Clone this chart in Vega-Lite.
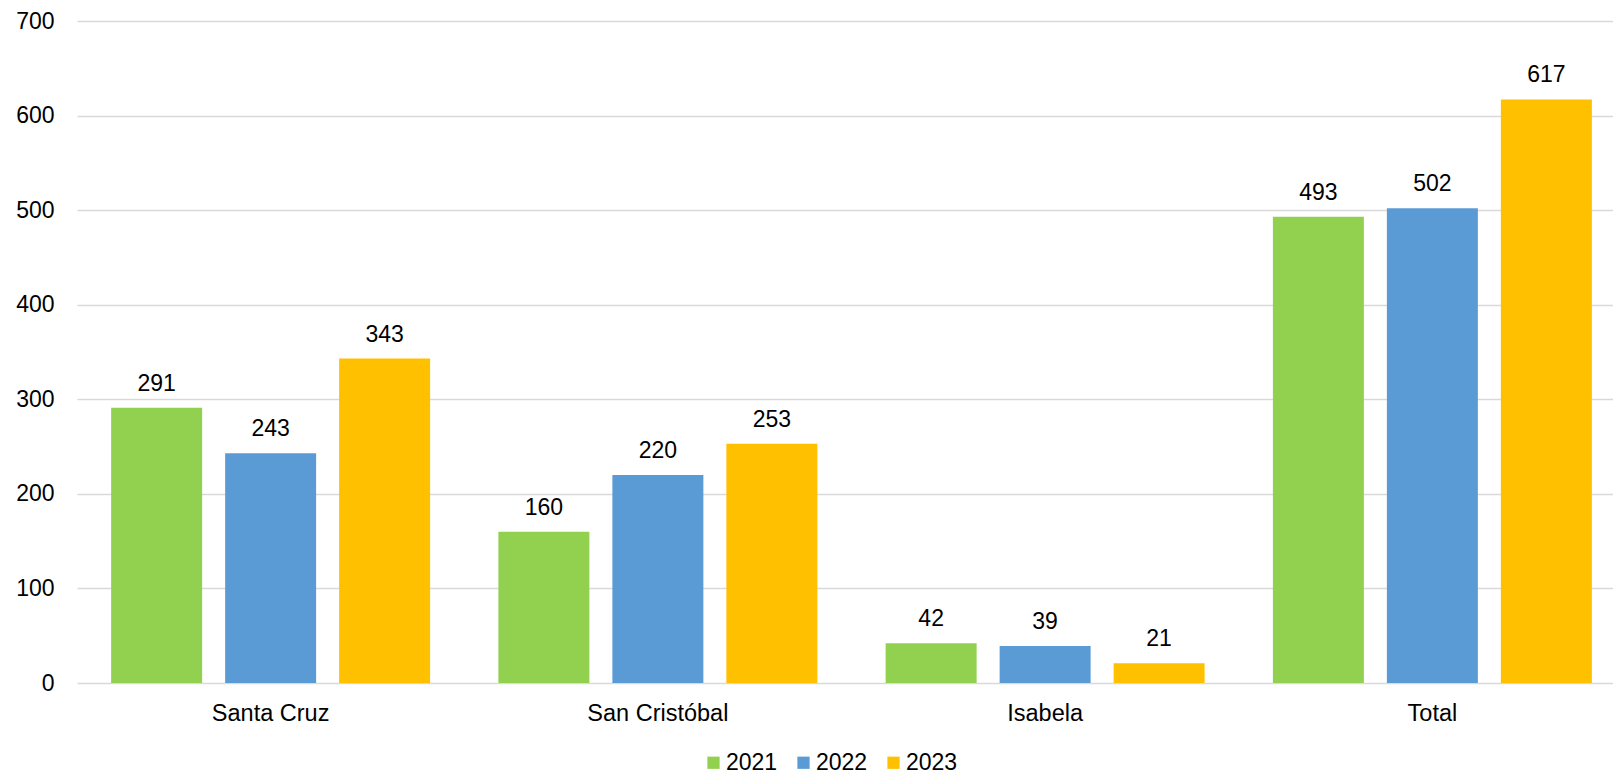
{
  "$schema": "https://vega.github.io/schema/vega-lite/v6.json",
  "autosize": {"type": "none"},
  "padding": {"left": 77, "top": 21, "right": 0, "bottom": 91},
  "width": 1536,
  "height": 662,
  "background": "white",
  "data": {
    "values": [
      {"isla": "Santa Cruz", "anio": "2021", "valor": 291},
      {"isla": "Santa Cruz", "anio": "2022", "valor": 243},
      {"isla": "Santa Cruz", "anio": "2023", "valor": 343},
      {"isla": "San Cristóbal", "anio": "2021", "valor": 160},
      {"isla": "San Cristóbal", "anio": "2022", "valor": 220},
      {"isla": "San Cristóbal", "anio": "2023", "valor": 253},
      {"isla": "Isabela", "anio": "2021", "valor": 42},
      {"isla": "Isabela", "anio": "2022", "valor": 39},
      {"isla": "Isabela", "anio": "2023", "valor": 21},
      {"isla": "Total", "anio": "2021", "valor": 493},
      {"isla": "Total", "anio": "2022", "valor": 502},
      {"isla": "Total", "anio": "2023", "valor": 617}
    ]
  },
  "config": {
    "font": "Liberation Sans",
    "view": {"stroke": null}
  },
  "encoding": {
    "x": {
      "field": "isla",
      "type": "nominal",
      "sort": ["Santa Cruz", "San Cristóbal", "Isabela", "Total"],
      "scale": {"range": [0, 1549], "paddingInner": 0, "paddingOuter": 0},
      "axis": {
        "title": null,
        "labelAngle": 0,
        "domain": false,
        "ticks": false,
        "tickSize": 0,
        "labelPadding": 37,
        "labelBaseline": "alphabetic",
        "labelFontSize": 23.5,
        "labelColor": "#000000",
        "grid": false
      }
    },
    "xOffset": {
      "field": "anio",
      "type": "nominal",
      "scale": {"paddingInner": 0.2018, "paddingOuter": 0.2995}
    },
    "y": {
      "field": "valor",
      "type": "quantitative",
      "scale": {"domain": [0, 700], "nice": false},
      "axis": {
        "title": null,
        "values": [0, 100, 200, 300, 400, 500, 600, 700],
        "domain": false,
        "ticks": false,
        "tickSize": 0,
        "labelPadding": 23,
        "labelFontSize": 23,
        "labelColor": "#000000",
        "grid": true,
        "gridColor": "#d9d9d9",
        "gridWidth": 1.5
      }
    }
  },
  "layer": [
    {
      "mark": {"type": "bar"},
      "encoding": {
        "color": {
          "field": "anio",
          "type": "nominal",
          "scale": {"domain": ["2021", "2022", "2023"], "range": ["#92d050", "#5b9bd5", "#ffc000"]},
          "legend": {
            "title": null,
            "orient": "none",
            "direction": "horizontal",
            "legendX": 625,
            "legendY": 730,
            "symbolType": "square",
            "symbolSize": 150,
            "symbolStrokeWidth": 0,
            "labelFontSize": 23,
            "labelColor": "#000000",
            "labelOffset": 1,
            "columnPadding": 14,
            "padding": 0
          }
        }
      }
    },
    {
      "mark": {"type": "text", "dy": -17, "baseline": "alphabetic", "fontSize": 23, "color": "#000000"},
      "encoding": {
        "text": {"field": "valor", "type": "quantitative"}
      }
    }
  ]
}
